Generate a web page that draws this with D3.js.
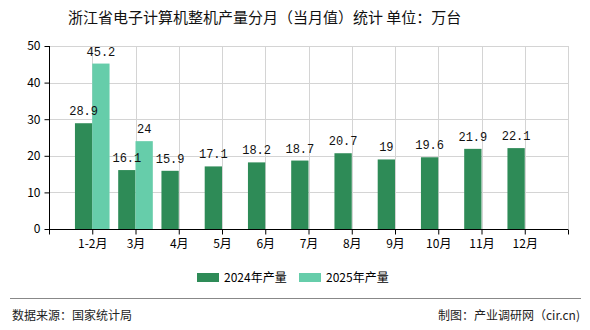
<!DOCTYPE html>
<html>
<head>
<meta charset="utf-8">
<script src="https://cdn.jsdelivr.net/npm/d3@7/dist/d3.min.js"></script>
<style>
  html, body { margin: 0; padding: 0; background: #fff; }
  svg { display: block; }
  text { font-family: "Noto Sans CJK SC", "DejaVu Sans", sans-serif; }
  .num { font-family: "Liberation Mono", "DejaVu Sans Mono", monospace; }
</style>
</head>
<body>
<svg id="chart" width="590" height="330"></svg>
<script>
// Monthly output, 10k units
const categories = ["1-2月", "3月", "4月", "5月", "6月", "7月", "8月", "9月", "10月", "11月", "12月"];
const values2024 = [28.9, 16.1, 15.9, 17.1, 18.2, 18.7, 20.7, 19, 19.6, 21.9, 22.1];
const values2025 = [45.2, 24];
const seriesNames = ["2024年产量", "2025年产量"];
const seriesColors = ["#2E8B57", "#66CDAA"];
const yTicks = [0, 10, 20, 30, 40, 50];

const svg = d3.select("#chart");
const plotLeft = 49, plotRight = 568, plotTop = 46, plotBottom = 229;

// Leading and trailing blank slots keep the axis ends clear of the bars
const slots = ["", ...categories, " "];
const x = d3.scalePoint().domain(slots).range([plotLeft, plotRight]);
const y = d3.scaleLinear().domain([0, 50]).range([plotBottom, plotTop]);
const barW = x.step() * 0.4;

// Title
svg.append("text")
  .attr("x", 68).attr("y", 23)
  .attr("font-size", 15).attr("fill", "#111")
  .text("浙江省电子计算机整机产量分月（当月值）统计  单位：万台");

// Grid
const grid = svg.append("g").attr("stroke", "#d4d4d4").attr("stroke-width", 1);
yTicks.filter(t => t > 0).forEach(t => {
  grid.append("line").attr("x1", plotLeft).attr("x2", plotRight)
    .attr("y1", Math.round(y(t)) + 0.5).attr("y2", Math.round(y(t)) + 0.5);
});
slots.slice(1).forEach(s => {
  grid.append("line").attr("y1", plotTop).attr("y2", plotBottom)
    .attr("x1", Math.round(x(s)) + 0.5).attr("x2", Math.round(x(s)) + 0.5);
});

// Bars first, value labels on top of all bars
const series = [values2024, values2025];
const barLayer = svg.append("g");
const labelLayer = svg.append("g");
series.forEach((vals, si) => {
  vals.forEach((v, i) => {
    const cx = x(categories[i]);
    const bx = si === 0 ? cx - barW : cx;
    barLayer.append("rect")
      .attr("x", bx).attr("y", y(v))
      .attr("width", barW).attr("height", y(0) - y(v))
      .attr("fill", seriesColors[si]);
    labelLayer.append("text")
      .attr("class", "num")
      .attr("x", bx + barW / 2).attr("y", y(v) - 8)
      .attr("text-anchor", "middle")
      .attr("font-size", 12).attr("fill", "#111")
      .text(v);
  });
});

// Y axis
const yAxis = d3.axisLeft(y).tickValues(yTicks).tickSize(5).tickPadding(4);
const gy = svg.append("g").attr("transform", `translate(${plotLeft + 0.5},0)`).call(yAxis);
gy.selectAll("path, line").attr("stroke", "#000");
gy.selectAll("text").attr("font-size", 12).attr("fill", "#000")
  .attr("font-family", "\"DejaVu Sans\", sans-serif");
gy.select(".domain").attr("d", `M0,${plotTop}V${plotBottom}`);

// X axis
const xAxis = d3.axisBottom(x).tickSize(5).tickPadding(5).tickFormat(d => d.trim());
const gx = svg.append("g").attr("transform", `translate(0,${plotBottom + 0.5})`).call(xAxis);
gx.selectAll("path, line").attr("stroke", "#000");
gx.selectAll("text").attr("font-size", 12).attr("fill", "#000");
gx.select(".domain").attr("d", `M${plotLeft},0H${plotRight}`);

// Legend
const legend = svg.append("g");
const legendX = [197, 299];
seriesNames.forEach((name, i) => {
  legend.append("rect")
    .attr("x", legendX[i]).attr("y", 273)
    .attr("width", 22).attr("height", 9)
    .attr("fill", seriesColors[i]);
  legend.append("text")
    .attr("x", legendX[i] + 27).attr("y", 282)
    .attr("font-size", 12).attr("fill", "#000")
    .text(name);
});

// Footer
svg.append("line")
  .attr("x1", 10).attr("x2", 581).attr("y1", 298.5).attr("y2", 298.5)
  .attr("stroke", "#888").attr("stroke-width", 1);
svg.append("text")
  .attr("x", 12).attr("y", 320)
  .attr("font-size", 12).attr("fill", "#222")
  .text("数据来源：国家统计局");
svg.append("text")
  .attr("x", 580).attr("y", 320)
  .attr("text-anchor", "end")
  .attr("font-size", 12).attr("fill", "#222")
  .text("制图：产业调研网（cir.cn)");
</script>
</body>
</html>
